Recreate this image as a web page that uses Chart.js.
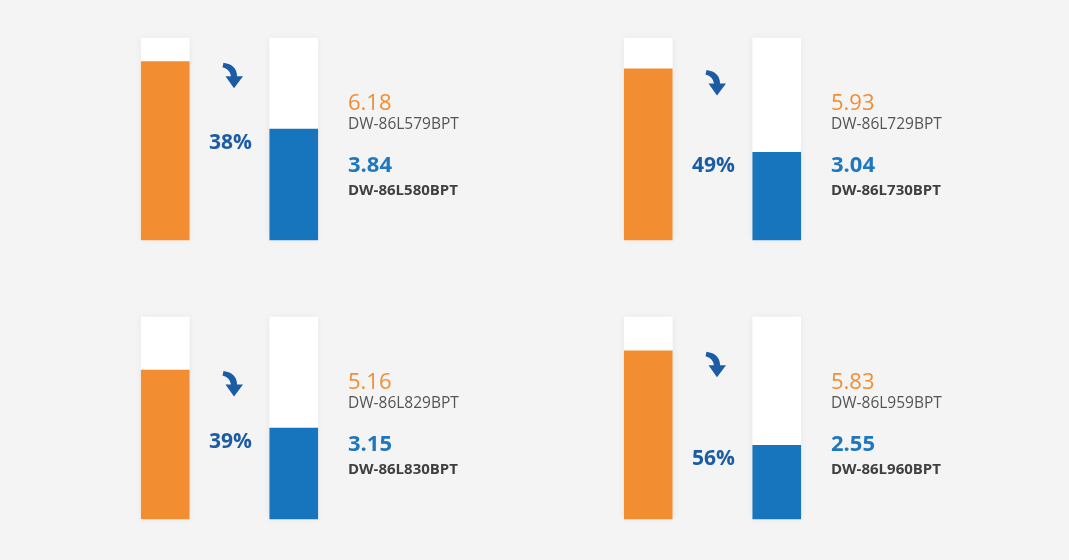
<!DOCTYPE html>
<html>
<head>
<meta charset="utf-8">
<script src="https://cdn.jsdelivr.net/npm/chart.js@4"></script>
<style>
  html, body { margin: 0; padding: 0; background: #f4f4f4; }
  body { width: 1069px; height: 560px; position: relative; overflow: hidden; }
  canvas { position: absolute; }
</style>
</head>
<body>
<canvas id="p0" width="480" height="279" style="left:60px;top:0px"></canvas>
<canvas id="p1" width="480" height="279" style="left:543px;top:0px"></canvas>
<canvas id="p2" width="480" height="279" style="left:60px;top:279px"></canvas>
<canvas id="p3" width="480" height="279" style="left:543px;top:279px"></canvas>
<script>
// Data
const oldModels = ['DW-86L579BPT', 'DW-86L729BPT', 'DW-86L829BPT', 'DW-86L959BPT'];
const newModels = ['DW-86L580BPT', 'DW-86L730BPT', 'DW-86L830BPT', 'DW-86L960BPT'];
const oldValues = [6.18, 5.93, 5.16, 5.83];
const newValues = [3.84, 3.04, 3.15, 2.55];
const scaleMax = 7;

const ORANGE = '#f38d32';
const BLUE = '#1675bd';
const DARK_BLUE = '#1b5ca5';
const FONT = '"Open Sans", "DejaVu Sans", sans-serif';

// soft shadow around the white tubes
const tubeShadow = {
    id: 'tubeShadow',
    beforeDatasetDraw(chart, args) {
        if (args.index !== 1) return;
        const ctx = chart.ctx;
        ctx.save();
        ctx.shadowColor = 'rgba(0,0,0,0.07)';
        ctx.shadowBlur = 7;
    },
    afterDatasetDraw(chart, args) {
        if (args.index !== 1) return;
        chart.ctx.restore();
    }
};

function drawArrow(ctx, x, y) {
    // curved arrow, box ~21x26 with top-left at (x, y)
    ctx.save();
    ctx.translate(x, y);
    ctx.fillStyle = DARK_BLUE;
    ctx.beginPath();
    ctx.moveTo(1, 0);
    ctx.quadraticCurveTo(14.5, 2, 14.5, 13.5);
    ctx.lineTo(20.5, 13.5);
    ctx.lineTo(11.5, 25.5);
    ctx.lineTo(3, 13.5);
    ctx.lineTo(8.5, 13.5);
    ctx.quadraticCurveTo(7.5, 6.5, 0, 4.5);
    ctx.closePath();
    ctx.fill();
    ctx.restore();
}

// arrow, percentage and the labels on the right
const panelText = {
    id: 'panelText',
    afterDraw(chart) {
        const i = chart.options.plugins.panelText.index;
        const ctx = chart.ctx;
        const meta = chart.getDatasetMeta(0);
        const yScale = chart.scales.y;
        const orangeTop = yScale.getPixelForValue(oldValues[i]);
        const blueTop = yScale.getPixelForValue(newValues[i]);
        const midX = (meta.data[0].x + meta.data[1].x) / 2 + 1;

        drawArrow(ctx, midX - 8, orangeTop + 1);

        const pct = Math.round((oldValues[i] - newValues[i]) / oldValues[i] * 100) + '%';
        ctx.save();
        ctx.textBaseline = 'alphabetic';
        ctx.textAlign = 'center';
        ctx.fillStyle = DARK_BLUE;
        ctx.font = 'bold 21px ' + FONT;
        ctx.fillText(pct, midX, blueTop + 20);

        const tx = chart.chartArea.right - 10;
        ctx.textAlign = 'left';
        ctx.fillStyle = ORANGE;
        ctx.font = '22px ' + FONT;
        ctx.fillText(oldValues[i].toFixed(2), tx, 110);
        ctx.fillStyle = '#555555';
        ctx.font = '15.5px ' + FONT;
        ctx.fillText(oldModels[i], tx, 129);
        ctx.fillStyle = '#1f78bf';
        ctx.font = 'bold 22px ' + FONT;
        ctx.fillText(newValues[i].toFixed(2), tx, 172);
        ctx.fillStyle = '#404040';
        ctx.font = 'bold 15px ' + FONT;
        ctx.fillText(newModels[i], tx, 195);
        ctx.restore();
    }
};

function buildPanel(i) {
    const ctx = document.getElementById('p' + i).getContext('2d');
    return new Chart(ctx, {
        type: 'bar',
        data: {
            labels: [oldModels[i], newModels[i]],
            datasets: [
                {
                    data: [oldValues[i], newValues[i]],
                    backgroundColor: [ORANGE, BLUE],
                    barThickness: 48,
                    grouped: false,
                    clip: false,
                    order: 0
                },
                {
                    data: [scaleMax, scaleMax],
                    backgroundColor: '#ffffff',
                    barThickness: 48,
                    grouped: false,
                    clip: false,
                    order: 1
                }
            ]
        },
        options: {
            responsive: false,
            animation: false,
            events: [],
            layout: {
                padding: { left: 41, right: 182, top: 38, bottom: 39 }
            },
            scales: {
                x: { display: false, offset: true },
                y: { display: false, min: 0, max: scaleMax }
            },
            plugins: {
                legend: { display: false },
                tooltip: { enabled: false },
                panelText: { index: i }
            }
        },
        plugins: [tubeShadow, panelText]
    });
}

// Initialize charts
for (let i = 0; i < oldValues.length; i++) {
    buildPanel(i);
}
</script>
</body>
</html>
